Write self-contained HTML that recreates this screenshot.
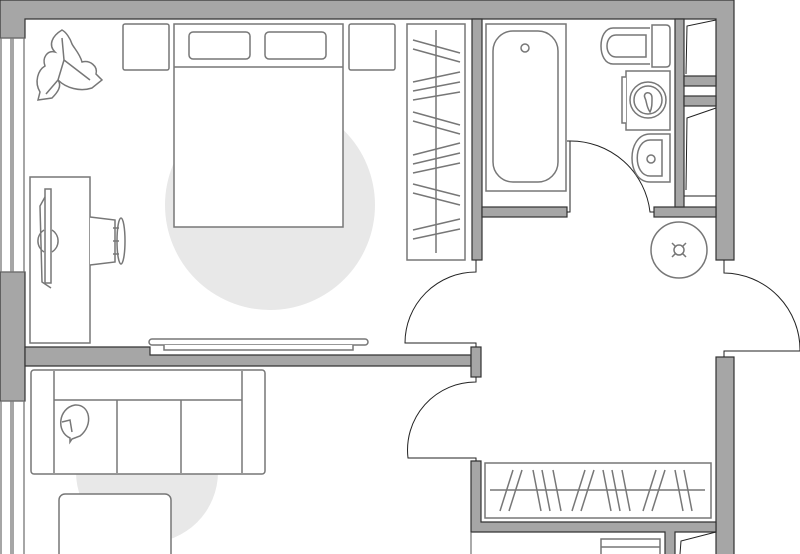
<!DOCTYPE html>
<html><head><style>html,body{margin:0;padding:0;background:#fff}svg{display:block}</style></head>
<body>
<svg width="800" height="554" viewBox="0 0 800 554" xmlns="http://www.w3.org/2000/svg">
<rect width="800" height="554" fill="#fff"/>
<!-- rugs -->
<circle cx="270" cy="205" r="105" fill="#e8e8e8"/>
<circle cx="147" cy="472" r="71" fill="#e8e8e8"/>

<g fill="#a6a6a6" stroke="#333" stroke-width="1.2">
<path d="M0 0 H734 V260 H716 V19 H25 V38 H0 Z"/>
<rect x="0" y="272" width="25" height="129"/>
<path d="M25 347 H150 V355 H471 V366 H25 Z"/>
<rect x="471" y="347" width="10" height="30"/>
<rect x="472" y="19" width="10" height="241"/>
<rect x="482" y="207" width="85" height="10"/>
<rect x="654" y="207" width="62" height="10"/>
<rect x="675" y="19" width="9" height="188"/>
<rect x="684" y="76" width="32" height="10"/>
<rect x="684" y="96" width="32" height="10"/>
<rect x="716" y="357" width="18" height="200"/>
<path d="M471 461 H481 V522 H716 V532 H675 V560 H665 V532 H481 V532 H471 Z"/>
</g>
<line x1="471" y1="532" x2="471" y2="554" stroke="#555" stroke-width="1"/>
<g fill="none" stroke="#222" stroke-width="1">
<path d="M686 74 L687 26 L716 20"/>
<path d="M686 190 L687 118 L716 108"/>
<line x1="684" y1="196" x2="716" y2="196"/>
<path d="M680 554 L681 541 L716 532"/>
</g>

<g fill="none" stroke="#777" stroke-width="1.3">
<rect x="1" y="38" width="23" height="234"/>
<line x1="11" y1="38" x2="11" y2="272"/><line x1="13" y1="38" x2="13" y2="272"/>
<rect x="1" y="401" width="23" height="160"/>
<line x1="11" y1="401" x2="11" y2="554"/><line x1="13" y1="401" x2="13" y2="554"/>
</g>

<g fill="none" stroke="#222" stroke-width="1">
<path d="M567 141 H570 V212 H567"/>
<path d="M570 141 A80 80 0 0 1 650 212 H654"/>
<path d="M476 260 V272 A71 71 0 0 0 405 343 H476 V347"/>
<path d="M476 377 V382 A68 68 0 0 0 408 458 H476 V461"/>
<path d="M724 260 V273 A77 77 0 0 1 800 351 H724 V357"/>
</g>

<g fill="#fff" stroke="#777" stroke-width="1.5">
<rect x="123" y="24" width="46" height="46" rx="2"/>
<rect x="349" y="24" width="46" height="46" rx="2"/>
<rect x="174" y="24" width="169" height="203"/>
<line x1="174" y1="67" x2="343" y2="67"/>
<rect x="189" y="32" width="61" height="27" rx="4"/>
<rect x="265" y="32" width="61" height="27" rx="4"/>
<path d="M62 30 C52 36 48 45 55 52 C47 50 42 58 45 66 C38 70 34 82 40 92 L38 100 L52 98 C58 92 62 86 58 80 C66 88 80 92 92 88 L102 80 L96 74 C98 66 90 60 82 62 C80 54 74 48 72 44 C70 38 66 32 62 30 Z"/>
<path fill="none" d="M58 80 L64 60 L62 38 M64 60 L90 80 M58 80 L46 94"/>
<rect x="30" y="177" width="60" height="166"/>
<rect x="45" y="189" width="6" height="94"/>
<path fill="none" d="M45 197 L40 206 L42 282 L51 288"/>
<path fill="none" d="M44 230 A13 13 0 0 0 44 252"/><path fill="none" d="M52 230 A13 13 0 0 1 52 252"/>
<path d="M90 217 L115 220 L115 262 L90 265"/>
<ellipse cx="121" cy="241" rx="4" ry="23"/>
<line x1="113" y1="228" x2="119" y2="228"/><line x1="113" y1="241" x2="119" y2="241"/><line x1="113" y1="254" x2="119" y2="254"/>
<rect x="407" y="24" width="58" height="236"/>
<line x1="436" y1="30" x2="436" y2="253"/>
<path d="M413 40 L460 53 M413 49 L460 62 M413 82 L460 72 M413 91 L460 82 M413 100 L460 92 M413 112 L460 125 M413 121 L460 134 M413 155 L460 143 M413 164 L460 153 M413 173 L460 163 M413 184 L460 196 M413 193 L460 205 M413 230 L460 219 M413 239 L460 229"/>
<rect x="149" y="339" width="219" height="6" rx="3"/>
<path d="M164 345 V350 H353 V345"/>
<rect x="486" y="24" width="80" height="167"/>
<rect x="493" y="31" width="65" height="151" rx="20"/>
<circle cx="525" cy="48" r="4"/>
<path d="M650 28 H613 C597 28 597 64 613 64 H650"/>
<path d="M646 35 H616 C604 35 604 57 616 57 H646 Z"/>
<path d="M652 25 H666 Q670 25 670 29 V63 Q670 67 666 67 H652 Z"/>
<rect x="626" y="71" width="44" height="59"/>
<path d="M626 77 H622 V123 H626"/>
<circle cx="648" cy="100" r="18"/><circle cx="648" cy="100" r="14"/>
<path d="M645 98 C642 92 652 90 652 98 C652 104 652 108 650 112 C646 106 647 102 645 98 Z"/>
<path d="M670 134 H650 C626 134 626 182 650 182 H670 Z"/>
<path d="M662 140 H650 C633 140 633 176 650 176 H662 Z"/>
<circle cx="651" cy="159" r="4"/>
<circle cx="679" cy="250" r="28"/>
<circle cx="679" cy="250" r="5"/>
<path d="M672 243 L676 247 M686 243 L682 247 M672 257 L676 253 M686 257 L682 253"/>
<rect x="31" y="370" width="234" height="104" rx="3"/>
<line x1="54" y1="371" x2="54" y2="473"/><line x1="242" y1="371" x2="242" y2="473"/>
<line x1="54" y1="400" x2="242" y2="400"/>
<line x1="117" y1="400" x2="117" y2="473"/><line x1="181" y1="400" x2="181" y2="473"/>
<path d="M70 438 C56 432 58 408 75 405 C90 404 94 425 80 436 L72 439 L70 442 Z"/>
<path fill="none" d="M62 422 L70 420 L72 432"/>
<rect x="59" y="494" width="112" height="80" rx="6"/>
<rect x="485" y="463" width="226" height="55"/>
<line x1="490" y1="490" x2="705" y2="490"/>
<path d="M500 511 L513 470 M509 511 L522 470 M533 470 L541 511 M542 470 L550 511 M553 470 L561 511 M572 511 L585 470 M581 511 L594 470 M603 470 L611 511 M612 470 L620 511 M622 470 L630 511 M643 511 L656 470 M652 511 L665 470 M675 470 L683 511 M684 470 L692 511"/>
<rect x="601" y="539" width="59" height="20"/>
<line x1="601" y1="547" x2="660" y2="547"/>
</g>
</svg>
</body></html>
